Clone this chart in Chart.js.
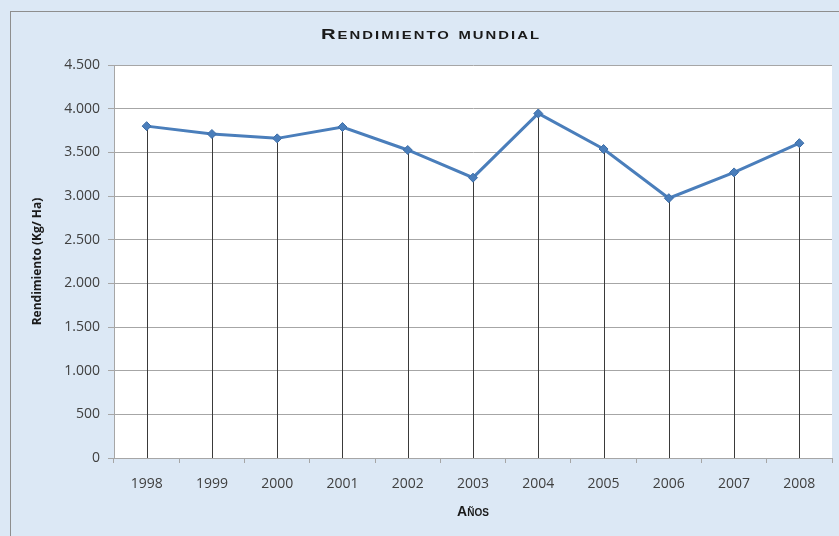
<!DOCTYPE html>
<html>
<head>
<meta charset="utf-8">
<title>Rendimiento mundial</title>
<script src="https://cdn.jsdelivr.net/npm/chart.js@4.4.1/dist/chart.umd.min.js"></script>
<style>
  html, body { margin: 0; padding: 0; background: #ffffff; }
  #wrap { width: 839px; height: 536px; }
</style>
</head>
<body>
<div id="wrap"><canvas id="yieldChart" width="839" height="536"></canvas></div>
<script>
// data (Kg/Ha)
const years = ['1998', '1999', '2000', '2001', '2002', '2003', '2004', '2005', '2006', '2007', '2008'];
const yieldValues = [3800, 3710, 3660, 3790, 3527, 3210, 3945, 3538, 2975, 3270, 3605];
const yTickLabels = ['0', '500', '1.000', '1.500', '2.000', '2.500', '3.000', '3.500', '4.000', '4.500'];
const chartTitle = 'Rendimiento mundial';

const lineBlue = '#4a7ebb';
const axisGray = '#a6a6a6';

// light blue background, chart border, white plot area
const backdrop = {
    id: 'backdrop',
    beforeDraw(chart) {
        const c = chart.ctx;
        const a = chart.chartArea;
        c.save();
        c.fillStyle = '#dce8f5';
        c.fillRect(0, 0, chart.width, chart.height);
        c.strokeStyle = '#8e8e8e';
        c.lineWidth = 1;
        c.strokeRect(10.5, 11.5, chart.width + 20, chart.height + 20);
        c.fillStyle = '#ffffff';
        c.fillRect(a.left, a.top, a.right - a.left, a.bottom - a.top);
        c.restore();
    },
    // title in wide small caps (Chart.js title can't do small-caps)
    afterDraw(chart) {
        const c = chart.ctx;
        c.save();
        c.translate(431, 35);
        c.scale(1.35, 1);
        c.font = 'small-caps bold 15px "Liberation Sans", sans-serif';
        c.letterSpacing = '1.5px';
        c.fillStyle = '#1a1a1a';
        c.textAlign = 'center';
        c.textBaseline = 'middle';
        c.fillText(chartTitle, 0, 0);
        c.restore();
    }
};

// vertical drop lines from each point to the category axis
const dropLines = {
    id: 'dropLines',
    beforeDatasetsDraw(chart) {
        const meta = chart.getDatasetMeta(0);
        const yBase = chart.scales.y.getPixelForValue(0);
        const c = chart.ctx;
        c.save();
        c.strokeStyle = '#3a3a3a';
        c.lineWidth = 1;
        meta.data.forEach(function (p) {
            const x = Math.round(p.x) + 0.5;
            c.beginPath();
            c.moveTo(x, p.y);
            c.lineTo(x, yBase);
            c.stroke();
        });
        c.restore();
    }
};

document.addEventListener('DOMContentLoaded', function () {
    const ctx = document.getElementById('yieldChart').getContext('2d');
    new Chart(ctx, {
        type: 'line',
        data: {
            labels: years,
            datasets: [{
                label: 'Rendimiento',
                data: yieldValues,
                borderColor: lineBlue,
                backgroundColor: lineBlue,
                borderWidth: 3,
                pointStyle: 'rectRot',
                pointRadius: 4.5,
                pointBorderWidth: 1,
                pointBorderColor: '#3f6fa8',
                pointBackgroundColor: lineBlue,
                tension: 0
            }]
        },
        options: {
            responsive: false,
            animation: false,
            layout: { padding: { left: 30, right: 7, top: 65, bottom: 0 } },
            plugins: {
                legend: { display: false },
                tooltip: { enabled: false },
                title: { display: false }
            },
            scales: {
                x: {
                    type: 'category',
                    offset: true,
                    grid: {
                        offset: true,
                        drawOnChartArea: false,
                        drawTicks: true,
                        tickLength: 5,
                        color: axisGray
                    },
                    border: { display: true, color: axisGray },
                    ticks: {
                        color: '#404040',
                        padding: 13,
                        maxRotation: 0,
                        font: { family: '"Open Sans"', size: 14 }
                    },
                    title: {
                        display: true,
                        text: 'Años',
                        color: '#1a1a1a',
                        font: { family: '"Liberation Sans", sans-serif', size: 14, weight: 'small-caps bold' },
                        padding: { top: 0, bottom: 15 }
                    },
                    afterFit(scale) { scale.height = 78; }
                },
                y: {
                    min: 0,
                    max: 4500,
                    grid: {
                        color: axisGray,
                        tickLength: 6,
                        drawTicks: true
                    },
                    border: { display: true, color: axisGray },
                    ticks: {
                        stepSize: 500,
                        color: '#404040',
                        padding: 8,
                        font: { family: '"Open Sans"', size: 14 },
                        callback: function (value, index) { return yTickLabels[index]; }
                    },
                    title: {
                        display: true,
                        text: 'Rendimiento (Kg/ Ha)',
                        color: '#1a1a1a',
                        font: { family: '"Open Sans"', size: 12, weight: 'bold' },
                        padding: { top: 0, bottom: 0 }
                    },
                    afterFit(scale) { scale.width = 84; }
                }
            }
        },
        plugins: [backdrop, dropLines]
    });
});
</script>
</body>
</html>
